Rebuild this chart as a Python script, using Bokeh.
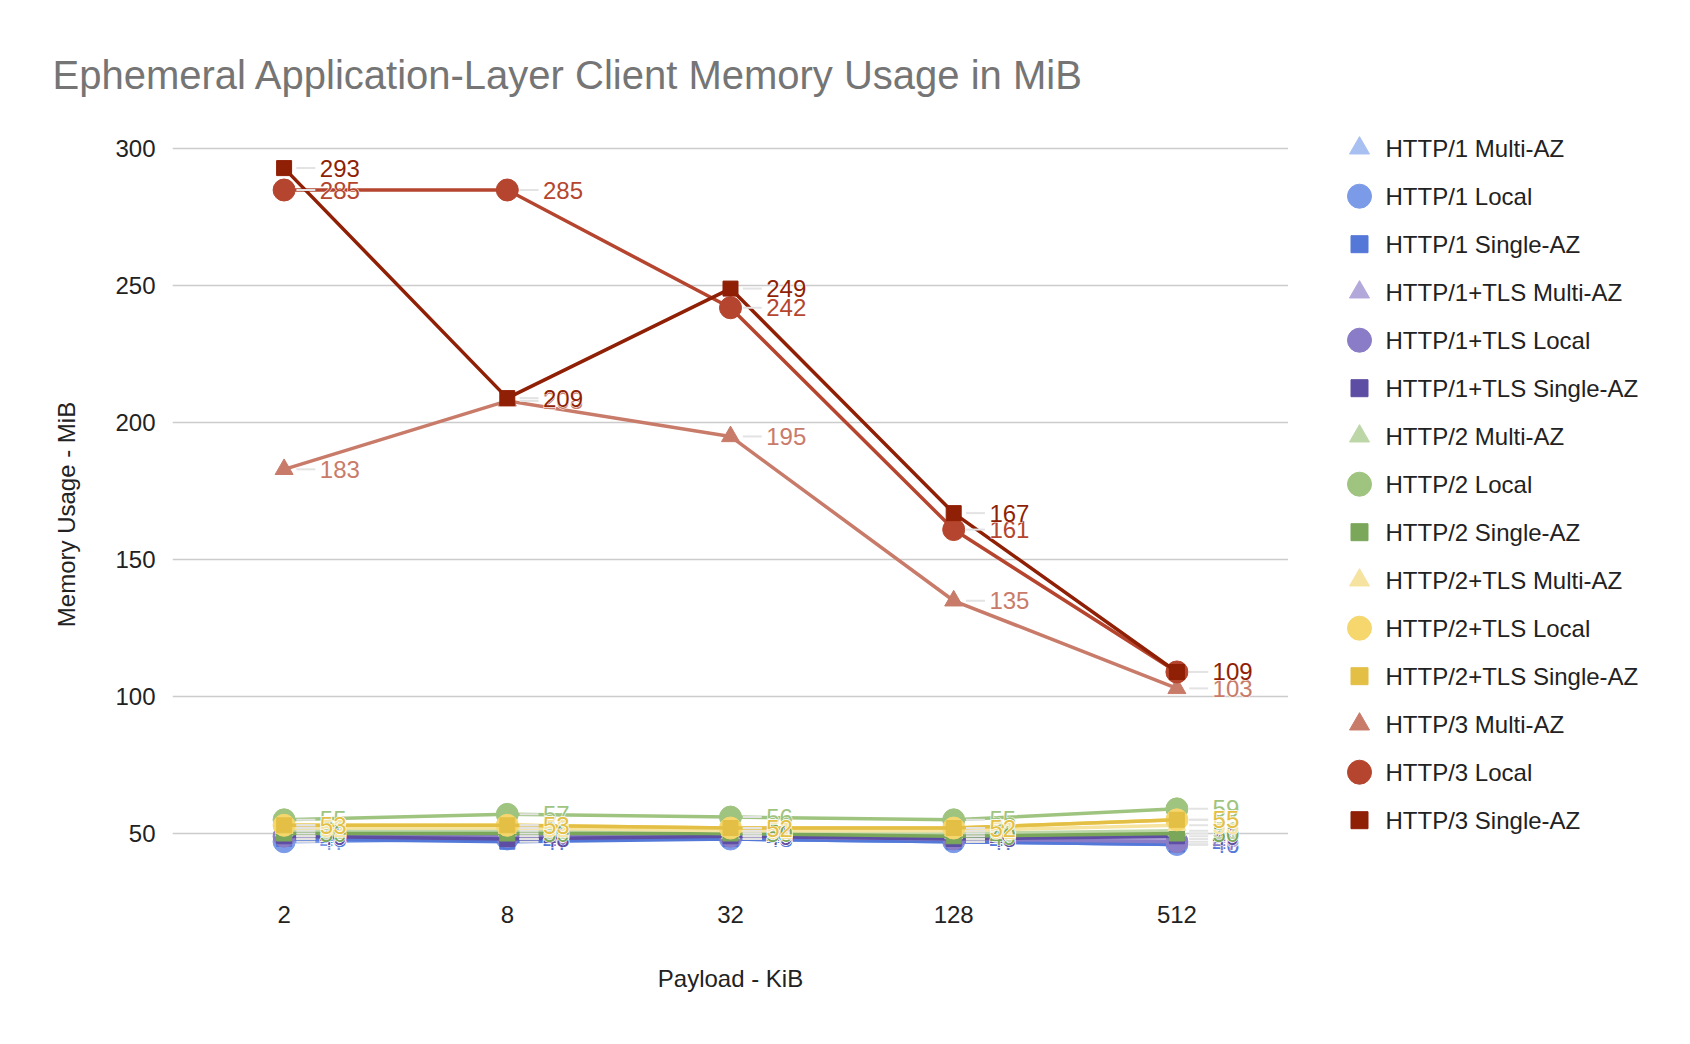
from bokeh.plotting import figure
from bokeh.models import FixedTicker, Range1d
from bokeh.layouts import row
from bokeh.embed import file_html
from bokeh.resources import INLINE
from bokeh.core.properties import value

# ---------------- data ----------------
payload_labels = ["2", "8", "32", "128", "512"]

series_names = [
    "HTTP/1 Multi-AZ", "HTTP/1 Local", "HTTP/1 Single-AZ",
    "HTTP/1+TLS Multi-AZ", "HTTP/1+TLS Local", "HTTP/1+TLS Single-AZ",
    "HTTP/2 Multi-AZ", "HTTP/2 Local", "HTTP/2 Single-AZ",
    "HTTP/2+TLS Multi-AZ", "HTTP/2+TLS Local", "HTTP/2+TLS Single-AZ",
    "HTTP/3 Multi-AZ", "HTTP/3 Local", "HTTP/3 Single-AZ",
]

http1_multi = [48, 48, 48, 47, 46]
http1_local = [47, 48, 48, 47, 46]
http1_single = [48, 47, 48, 47, 46]
http1tls_multi = [49, 49, 49, 48, 48]
http1tls_local = [49, 49, 49, 48, 47]
http1tls_single = [49, 48, 49, 48, 49]
http2_multi = [51, 51, 50, 50, 51]
http2_local = [55, 57, 56, 55, 59]
http2_single = [50, 50, 50, 49, 50]
http2tls_multi = [52, 52, 51, 51, 53]
http2tls_local = [53, 53, 52, 52, 55]
http2tls_single = [53, 53, 52, 52, 55]
http3_multi = [183, 208, 195, 135, 103]
http3_local = [285, 285, 242, 161, 109]
http3_single = [293, 209, 249, 167, 109]

series_values = [
    http1_multi, http1_local, http1_single,
    http1tls_multi, http1tls_local, http1tls_single,
    http2_multi, http2_local, http2_single,
    http2tls_multi, http2tls_local, http2tls_single,
    http3_multi, http3_local, http3_single,
]

colors = [
    "#a8bff2", "#7b9be8", "#5478d8",
    "#b2a8da", "#8a7cc6", "#5e4ea3",
    "#bdd6a8", "#9fc47f", "#7aa75a",
    "#f7e3a0", "#f5d76e", "#e3bf45",
    "#c97b6a", "#b5452e", "#8f1f05",
]
markers = ["triangle", "circle", "square"] * 5
marker_sizes = {"triangle": 18, "circle": 22, "square": 15}
legend_marker_sizes = {"triangle": 20, "circle": 24, "square": 17}

FONT = "Liberation Sans"

# ---------------- main figure ----------------
W1, W2, H = 1288, 398, 1040
Y0, Y1 = 27, 306
FRAME_TOP, FRAME_BOTTOM = 132, 896
p = figure(width=W1, height=H, output_backend="svg", toolbar_location=None,
           x_range=Range1d(-0.5, 4.5), y_range=Range1d(Y0, Y1),
           min_border_left=172, min_border_right=0,
           min_border_top=FRAME_TOP, min_border_bottom=H - FRAME_BOTTOM)
p.outline_line_color = None
p.background_fill_color = "white"
p.border_fill_color = "white"

p.title.text = "Ephemeral Application-Layer Client Memory Usage in MiB"
p.title.text_font = FONT
p.title.text_font_size = "40px"
p.title.text_font_style = "normal"
p.title.text_color = "#757575"
p.title.align = "left"
p.title.offset = -120
p.title.standoff = 71

xs = list(range(len(payload_labels)))

p.xaxis.ticker = FixedTicker(ticks=xs)
p.xaxis.major_label_overrides = {i: lab for i, lab in enumerate(payload_labels)}
p.yaxis.ticker = FixedTicker(ticks=[50, 100, 150, 200, 250, 300])
for ax in (p.xaxis[0], p.yaxis[0]):
    ax.axis_line_color = None
    ax.major_tick_line_color = None
    ax.minor_tick_line_color = None
    ax.major_label_text_font = FONT
    ax.major_label_text_font_size = "24px"
    ax.major_label_text_color = "#222222"
    ax.axis_label_text_font = FONT
    ax.axis_label_text_font_size = "24px"
    ax.axis_label_text_font_style = "normal"
    ax.axis_label_text_color = "#222222"
p.xaxis.axis_label = "Payload - KiB"
p.yaxis.axis_label = "Memory Usage - MiB"
p.xaxis.major_label_standoff = 3
p.xaxis.axis_label_standoff = 39
p.yaxis.major_label_standoff = 11
p.yaxis.axis_label_standoff = 32

p.xgrid.grid_line_color = None
p.ygrid.grid_line_color = "#cccccc"
p.ygrid.grid_line_width = 1.5

for name, vals, col, mk in zip(series_names, series_values, colors, markers):
    p.line(xs, vals, line_color=col, line_width=3.5)
    p.scatter(xs, vals, marker=mk, size=marker_sizes[mk],
              fill_color=col, line_color=col, line_width=1)

# data labels with leader lines
for vals in series_values:
    p.segment(x0=[x + 0.055 for x in xs], y0=vals,
              x1=[x + 0.14 for x in xs], y1=vals,
              line_color="#e3e3e3", line_width=2)
for vals, col in zip(series_values, colors):
    lab_x = [x + 0.16 for x in xs]
    lab_t = [str(v) for v in vals]
    p.text(x=lab_x, y=vals, text=lab_t,
           text_font=value(FONT), text_font_size="24px", text_color="white",
           text_baseline="middle", text_align="left",
           text_outline_color="white")
    p.text(x=lab_x, y=vals, text=lab_t,
           text_font=value(FONT), text_font_size="24px", text_color=col,
           text_baseline="middle", text_align="left")

# ---------------- legend panel ----------------
# frames of the two figures are aligned by the row layout, so this range
# maps canvas pixels of the legend panel one to one
q = figure(width=W2, height=H, output_backend="svg", toolbar_location=None,
           x_range=Range1d(0, W2), y_range=Range1d(FRAME_BOTTOM, FRAME_TOP),
           x_axis_location=None, y_axis_location=None,
           min_border_left=0, min_border_right=0,
           min_border_top=FRAME_TOP, min_border_bottom=H - FRAME_BOTTOM)
q.outline_line_color = None
q.xgrid.grid_line_color = None
q.ygrid.grid_line_color = None
q.background_fill_color = "white"
q.border_fill_color = "white"

leg_x0 = 1359 - W1
leg_y0 = 147.7
leg_pitch = 48
leg_y = [leg_y0 + leg_pitch * i for i in range(len(series_names))]
for name, col, mk, yy in zip(series_names, colors, markers, leg_y):
    q.scatter([leg_x0], [yy], marker=mk, size=legend_marker_sizes[mk],
              fill_color=col, line_color=col, line_width=1)
q.text(x=[leg_x0 + 26] * len(series_names), y=leg_y, text=series_names,
       text_font=value(FONT), text_font_size="24px", text_color="#222222",
       text_baseline="middle", text_align="left")

layout = row(p, q, spacing=0)
open("out.html", "w").write(file_html(layout, INLINE))
